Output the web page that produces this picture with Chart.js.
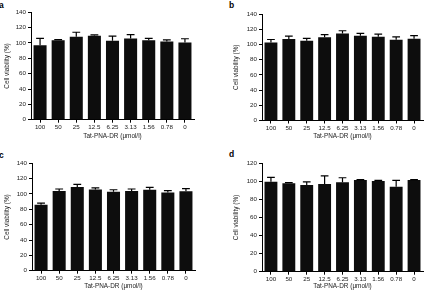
<!DOCTYPE html>
<html lang="en">
<head>
<meta charset="UTF-8">
<title>Cell viability</title>
<script src="https://cdn.jsdelivr.net/npm/chart.js"></script>
<style>
    html, body { margin: 0; padding: 0; background: #fff; }
    body { width: 427px; height: 296px; position: relative; overflow: hidden; }
    canvas { position: absolute; }
    .lbl { position: absolute; font: bold 8.5px "Liberation Sans", Arial, sans-serif; color: #000; }
</style>
</head>
<body>
<div class="lbl" style="left:-1px;top:0px">a</div>
<div class="lbl" style="left:229px;top:0px">b</div>
<div class="lbl" style="left:-1px;top:150px">c</div>
<div class="lbl" style="left:229px;top:149px">d</div>

<canvas id="chartA" width="213" height="148" style="left:0;top:0"></canvas>
<canvas id="chartB" width="214" height="148" style="left:213px;top:0"></canvas>
<canvas id="chartC" width="213" height="148" style="left:0;top:148px"></canvas>
<canvas id="chartD" width="214" height="148" style="left:213px;top:148px"></canvas>

<script>
    // concentrations of Tat-PNA-DR (umol/l)
    const doses = ['100', '50', '25', '12.5', '6.25', '3.13', '1.56', '0.78', '0'];

    // cell viability (%) per panel, mean and error
    const viabilityA = [97, 103.5, 108, 109.5, 103, 106, 103.5, 102, 100.5];
    const errorA     = [9, 1, 6, 1, 6, 5, 2.5, 2, 5];
    const viabilityB = [102.5, 107, 105, 109.5, 114.5, 111.5, 110, 106, 107.5];
    const errorB     = [4, 4, 3, 3.5, 3.5, 3, 3.5, 4, 4];
    const viabilityC = [86, 104, 109, 106, 103, 104, 105.5, 102, 103.5];
    const errorC     = [2, 2.5, 3.5, 2, 2.5, 2.5, 3, 2.5, 3.5];
    const viabilityD = [99.5, 98, 96, 97, 99, 101.5, 100.5, 94, 101.5];
    const errorD     = [5, 0.5, 3.5, 9, 5, 0.5, 0.5, 7, 0.5];

    const FONT = '"Liberation Sans", Arial, sans-serif';
    const titleSize = 6.4;
    const tickSize = 6.2;

    // upward error bars with a cap
    const errorBars = {
        id: 'errorBars',
        afterDatasetsDraw(chart) {
            const ctx = chart.ctx;
            const ds = chart.data.datasets[0];
            const meta = chart.getDatasetMeta(0);
            const y = chart.scales.y;
            ctx.save();
            ctx.strokeStyle = '#000';
            ctx.lineWidth = 1.2;
            meta.data.forEach((bar, i) => {
                const top = y.getPixelForValue(ds.data[i] + ds.errors[i]);
                const half = bar.width * 0.3;
                ctx.beginPath();
                ctx.moveTo(bar.x, bar.y);
                ctx.lineTo(bar.x, top);
                ctx.moveTo(bar.x - half, top);
                ctx.lineTo(bar.x + half, top);
                ctx.stroke();
            });
            ctx.restore();
        }
    };

    function makePanel(id, values, errors, yMax, box) {
        const canvas = document.getElementById(id);
        const W = canvas.width, H = canvas.height;
        const lh = titleSize * 1.2;
        const padLeft = box.yTitleX - lh / 2;
        const padBottom = H - box.xTitleY - lh / 2;

        new Chart(canvas, {
            type: 'bar',
            data: {
                labels: doses,
                datasets: [{
                    data: values,
                    errors: errors,
                    backgroundColor: '#0d0d0d',
                    borderWidth: 0,
                    barPercentage: 0.72,
                    categoryPercentage: 1
                }]
            },
            options: {
                responsive: false,
                devicePixelRatio: 1,
                animation: false,
                layout: {
                    padding: { left: padLeft, right: W - box.right, top: box.top, bottom: padBottom }
                },
                plugins: { legend: { display: false }, tooltip: { enabled: false } },
                scales: {
                    x: {
                        grid: { display: true, drawOnChartArea: false, offset: false, tickLength: 3, color: '#000', lineWidth: 1 },
                        border: { display: true, color: '#000', width: 1 },
                        ticks: { color: '#222', font: { family: FONT, size: tickSize }, padding: 1, maxRotation: 0, autoSkip: false },
                        title: { display: true, text: 'Tat-PNA-DR (μmol/l)', color: '#222', font: { family: FONT, size: titleSize }, padding: 0 },
                        afterFit(scale) { scale.height = (H - padBottom) - box.bottom; }
                    },
                    y: {
                        min: 0,
                        max: yMax,
                        grid: { display: true, drawOnChartArea: false, tickLength: 3, color: '#000', lineWidth: 1 },
                        border: { display: true, color: '#000', width: 1 },
                        ticks: { stepSize: 20, color: '#222', font: { family: FONT, size: tickSize }, padding: 2 },
                        title: { display: true, text: 'Cell viability (%)', color: '#222', font: { family: FONT, size: titleSize }, padding: 0 },
                        afterFit(scale) { scale.width = box.left - padLeft; }
                    }
                }
            },
            plugins: [errorBars]
        });
    }

    makePanel('chartA', viabilityA, errorA, 140, { left: 31, right: 194, top: 12.3, bottom: 119.7, yTitleX: 7.2, xTitleY: 136 });
    makePanel('chartB', viabilityB, errorB, 140, { left: 49, right: 210, top: 14, bottom: 120.5, yTitleX: 23.7, xTitleY: 136.7 });
    makePanel('chartC', viabilityC, errorC, 140, { left: 32, right: 195, top: 15.3, bottom: 122.7, yTitleX: 7.2, xTitleY: 138.5 });
    makePanel('chartD', viabilityD, errorD, 120, { left: 49, right: 210, top: 15.3, bottom: 123.7, yTitleX: 23.7, xTitleY: 138.5 });
</script>
</body>
</html>
